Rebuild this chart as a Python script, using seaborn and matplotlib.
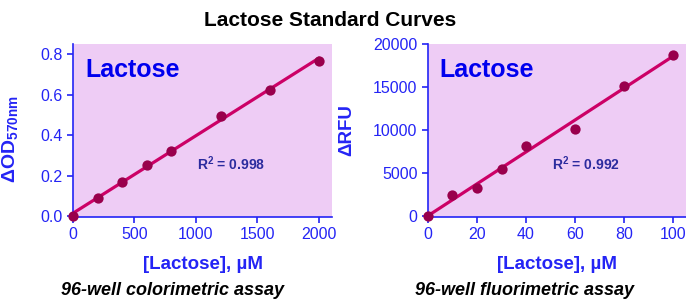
import seaborn as sns
import matplotlib.pyplot as plt
import pandas as pd

# standard curve readings
color_conc = [0, 200, 400, 600, 800, 1200, 1600, 2000]
color_od = [0.0, 0.09, 0.169, 0.25, 0.322, 0.496, 0.624, 0.767]
fluor_conc = [0, 10, 20, 30, 40, 60, 80, 100]
fluor_rfu = [0, 2430, 3240, 5520, 8100, 10160, 15170, 18760]

r2_labels = ["0.998", "0.992"]
subtitles = ["96-well colorimetric assay", "96-well fluorimetric assay"]
ylabels = [r"$\mathbf{\Delta OD_{570nm}}$", "\u0394RFU"]

sns.set_style("white")
plt.rcParams['font.family'] = ['Liberation Sans', 'DejaVu Sans']
plt.rcParams['mathtext.fontset'] = 'custom'
plt.rcParams['mathtext.rm'] = 'Liberation Sans'
plt.rcParams['mathtext.bf'] = 'Liberation Sans:bold'

blue = "#2424F5"
navy = "#2B2B9E"
pink_bg = "#EECCF5"
dot = "#99004C"
line = "#CC0066"

fig = plt.figure(figsize=(6.86, 2.99), dpi=100)
ax1 = fig.add_axes([0.1064, 0.2753, 0.3776, 0.5776])
ax2 = fig.add_axes([0.6239, 0.2753, 0.3761, 0.5776])

df1 = pd.DataFrame({"conc": color_conc, "val": color_od})
df2 = pd.DataFrame({"conc": fluor_conc, "val": fluor_rfu})

for ax, df in [(ax1, df1), (ax2, df2)]:
    sns.regplot(x="conc", y="val", data=df, ax=ax, ci=None,
                scatter_kws=dict(s=55, color=dot, zorder=3, clip_on=False, linewidths=0, alpha=1),
                line_kws=dict(color=line, lw=2.3, zorder=2))
    ax.set_facecolor(pink_bg)
    for s in ["top", "right"]:
        ax.spines[s].set_visible(False)
    for s in ["left", "bottom"]:
        ax.spines[s].set_color(blue)
        ax.spines[s].set_linewidth(1.2)
    ax.tick_params(axis="both", colors=blue, labelcolor=blue, labelsize=11.5,
                   direction="out", length=4, width=1.2, bottom=True, left=True)

ax1.set_xlim(0, 2106)
ax1.set_ylim(-0.003, 0.85)
ax1.set_xticks([0, 500, 1000, 1500, 2000])
ax1.set_yticks([0.0, 0.2, 0.4, 0.6, 0.8])
ax1.set_yticklabels(["0.0", "0.2", "0.4", "0.6", "0.8"])

ax2.set_xlim(0, 105.3)
ax2.set_ylim(-60, 20000)
ax2.set_xticks([0, 20, 40, 60, 80, 100])
ax2.set_yticks([0, 5000, 10000, 15000, 20000])

for i, ax in enumerate([ax1, ax2]):
    ax.set_xlabel("[Lactose], \u00b5M", color=blue, fontsize=13.5, fontweight="bold")
    ax.set_ylabel(ylabels[i], color=blue, fontsize=14 if i == 0 else 13.5, fontweight="bold")
    ax.text(0.046, 0.85, "Lactose", transform=ax.transAxes, color="#0000EE",
            fontsize=18, fontweight="bold", va="center", ha="left")
    ax.text(0.48, 0.305, r"$\mathbf{R^2}$ = " + r2_labels[i],
            transform=ax.transAxes, color=navy, fontsize=10, fontweight="bold",
            va="center", ha="left")
    ax.xaxis.set_label_coords(0.5, -0.225)

ax1.yaxis.set_label_coords(-0.205, 0.45)
ax2.yaxis.set_label_coords(-0.282, 0.5)

fig.text(0.481, 0.933, "Lactose Standard Curves", ha="center", va="center",
         fontsize=15, fontweight="bold", color="black")
fig.text(0.251, 0.027, subtitles[0], ha="center", va="center", fontsize=13,
         fontweight="bold", style="italic", color="black")
fig.text(0.764, 0.027, subtitles[1], ha="center", va="center", fontsize=13,
         fontweight="bold", style="italic", color="black")

fig.savefig("out.png", dpi=100)
